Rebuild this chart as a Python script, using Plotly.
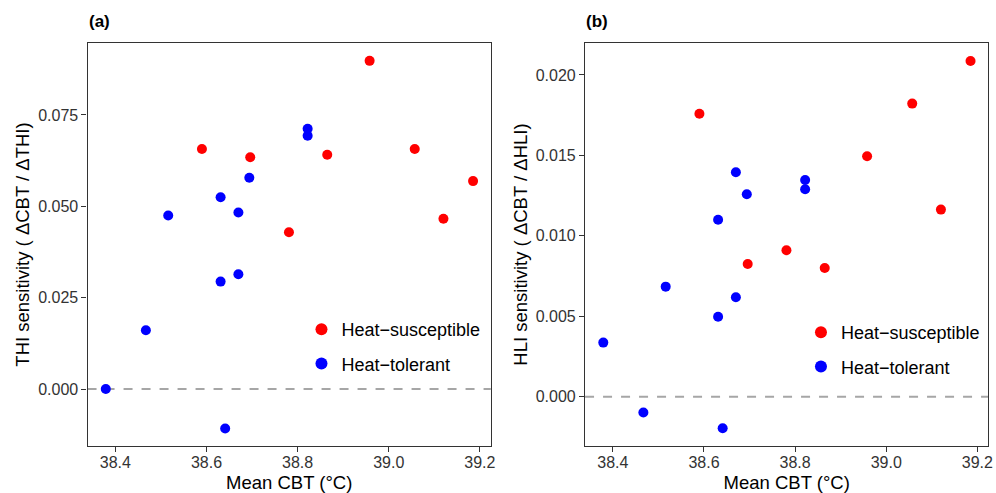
import plotly.graph_objects as go

# ---- data ----
sus_cbt = [38.590, 38.696, 38.781, 38.865, 38.958, 39.057, 39.120, 39.185]
sus_thi = [0.0657, 0.0634, 0.0429, 0.0641, 0.0898, 0.0657, 0.0466, 0.0569]
sus_hli = [0.01759, 0.00825, 0.0091, 0.0080, 0.01495, 0.01822, 0.01163, 0.02087]

tol_cbt = [38.379, 38.467, 38.516, 38.631, 38.631, 38.641, 38.670, 38.670, 38.694, 38.822, 38.822]
tol_thi = [0.0, 0.0161, 0.0475, 0.0525, 0.0294, -0.0108, 0.0483, 0.0314, 0.0578, 0.0712, 0.0693]
tol_hli = [0.00336, -0.00099, 0.00684, 0.0110, 0.00497, -0.00197, 0.01395, 0.00618, 0.01258, 0.01347, 0.01289]

x_ticks = [38.4, 38.6, 38.8, 39.0, 39.2]
thi_ticks = [0.000, 0.025, 0.050, 0.075]
hli_ticks = [0.000, 0.005, 0.010, 0.015, 0.020]

group_names = ["Heat\u2212susceptible", "Heat\u2212tolerant"]
group_colors = ["#ff0000", "#0000ff"]

FONT = "Liberation Sans, Arial, sans-serif"
W, H = 996, 493

fig = go.Figure()

panels = [
    ("x", "y", sus_thi, tol_thi, "legend"),
    ("x2", "y2", sus_hli, tol_hli, "legend2"),
]
for xa, ya, sy, ty, leg in panels:
    fig.add_trace(go.Scatter(x=sus_cbt, y=sy, mode="markers", xaxis=xa, yaxis=ya,
                             name=group_names[0], legend=leg, legendgroup=leg + "s",
                             marker=dict(color=group_colors[0], size=10, line=dict(width=0))))
    fig.add_trace(go.Scatter(x=tol_cbt, y=ty, mode="markers", xaxis=xa, yaxis=ya,
                             name=group_names[1], legend=leg, legendgroup=leg + "t",
                             marker=dict(color=group_colors[1], size=10, line=dict(width=0))))

# zero reference lines
for xref, yref in [("x", "y"), ("x2", "y2")]:
    fig.add_shape(type="line", xref=xref + " domain", yref=yref, x0=0, x1=1, y0=0, y1=0,
                  line=dict(color="#a6a6a6", width=2, dash="dash"), layer="below")

ax_common = dict(
    showline=True, mirror=True, linecolor="#333333", linewidth=1.3,
    ticks="outside", ticklen=5, tickcolor="#333333", tickwidth=1.2,
    showgrid=False, zeroline=False,
    tickfont=dict(family=FONT, size=16, color="#333333"),
)

xdom1 = [88 / W, 493.3 / W]
xdom2 = [588 / W, 993.3 / W]
ydom = [1 - 445.7 / H, 1 - 43.3 / H]
xr = [38.339, 39.224]

fig.update_layout(
    width=W, height=H,
    margin=dict(l=0, r=0, t=0, b=0),
    paper_bgcolor="white", plot_bgcolor="white",
    font=dict(family=FONT, color="#000000"),
    xaxis=dict(domain=xdom1, range=xr, tickvals=x_ticks, ticktext=[f"{v:.1f}" for v in x_ticks],
               title=dict(text="Mean CBT (\u00b0C)", font=dict(size=18.5), standoff=8),
               ticklabelstandoff=-3, anchor="y", **ax_common),
    yaxis=dict(domain=ydom, range=[-0.0155, 0.0946], tickvals=thi_ticks,
               ticktext=[f"{v:.3f}" for v in thi_ticks],
               title=dict(text="THI sensitivity ( \u0394CBT / \u0394THI)", font=dict(size=18.5), standoff=3),
               anchor="x", **ax_common),
    xaxis2=dict(domain=xdom2, range=xr, tickvals=x_ticks, ticktext=[f"{v:.1f}" for v in x_ticks],
                title=dict(text="Mean CBT (\u00b0C)", font=dict(size=18.5), standoff=8),
                ticklabelstandoff=-3, anchor="y2", **ax_common),
    yaxis2=dict(domain=ydom, range=[-0.00305, 0.02197], tickvals=hli_ticks,
                ticktext=[f"{v:.3f}" for v in hli_ticks],
                title=dict(text="HLI sensitivity ( \u0394CBT / \u0394HLI)", font=dict(size=18.5), standoff=3),
                anchor="x2", **ax_common),
    legend=dict(x=303 / W, y=1 - 311 / H, xanchor="left", yanchor="top",
                bgcolor="rgba(0,0,0,0)", font=dict(family=FONT, size=18, color="#000000"),
                tracegroupgap=8, itemsizing="constant"),
    legend2=dict(x=805 / W, y=1 - 314 / H, xanchor="left", yanchor="top",
                 bgcolor="rgba(0,0,0,0)", font=dict(family=FONT, size=18, color="#000000"),
                 tracegroupgap=8, itemsizing="constant"),
    showlegend=True,
)

fig.add_annotation(text="<b>(a)</b>", xref="paper", yref="paper", x=87 / W, y=1 - 22 / H,
                   xanchor="left", yanchor="middle", showarrow=False,
                   font=dict(family=FONT, size=17, color="#000000"))
fig.add_annotation(text="<b>(b)</b>", xref="paper", yref="paper", x=587 / W, y=1 - 22 / H,
                   xanchor="left", yanchor="middle", showarrow=False,
                   font=dict(family=FONT, size=17, color="#000000"))

fig.write_html("out.html", config={"displayModeBar": False},
               post_script="document.body.style.margin='0';document.body.style.padding='0';")
